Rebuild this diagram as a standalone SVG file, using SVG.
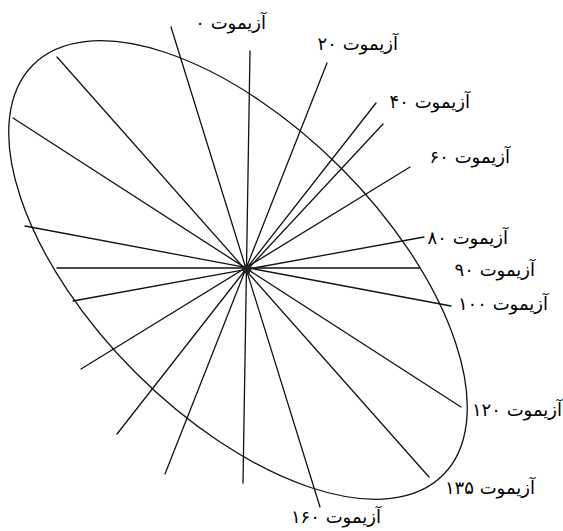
<svg xmlns="http://www.w3.org/2000/svg" width="563" height="531" viewBox="0 0 563 531">
<style>
.ray{stroke:#111;stroke-width:1.3;fill:none;stroke-linecap:round}
.ell{stroke:#111;stroke-width:1.3;fill:none}
.lbl{font-family:"DejaVu Sans",sans-serif;font-size:18px;fill:#000;text-anchor:end}
</style>
<rect width="563" height="531" fill="#fff"/>
<g id="ellipse">
<ellipse class="ell" cx="238" cy="270" rx="290" ry="145" transform="rotate(45 238 270)"/>
</g>
<g id="connectors">
<line class="ray" x1="171" y1="27" x2="320" y2="507"/>
<line class="ray" x1="250" y1="51" x2="243" y2="483"/>
<line class="ray" x1="327" y1="63" x2="165" y2="474"/>
<line class="ray" x1="376" y1="103" x2="117" y2="434"/>
<line class="ray" x1="383" y1="124" x2="248" y2="269"/>
<line class="ray" x1="410" y1="167" x2="81" y2="369"/>
<line class="ray" x1="424" y1="237" x2="73" y2="301"/>
<line class="ray" x1="420" y1="268" x2="57" y2="268"/>
<line class="ray" x1="451" y1="306" x2="25" y2="226"/>
<line class="ray" x1="461" y1="407" x2="13" y2="118"/>
<line class="ray" x1="429" y1="477" x2="57" y2="57"/>
</g>
<g id="center">
<circle cx="247" cy="269" r="4.5" fill="#222"/>
</g>
<g id="label-0"><text class="lbl" x="266" y="29">آزیموت ۰</text></g>
<g id="label-20"><text class="lbl" x="398" y="50">آزیموت ۲۰</text></g>
<g id="label-40"><text class="lbl" x="470" y="108">آزیموت ۴۰</text></g>
<g id="label-60"><text class="lbl" x="510" y="163">آزیموت ۶۰</text></g>
<g id="label-80"><text class="lbl" x="508" y="244">آزیموت ۸۰</text></g>
<g id="label-90"><text class="lbl" x="535" y="276">آزیموت ۹۰</text></g>
<g id="label-100"><text class="lbl" x="548" y="310">آزیموت ۱۰۰</text></g>
<g id="label-120"><text class="lbl" x="562" y="416">آزیموت ۱۲۰</text></g>
<g id="label-135"><text class="lbl" x="535" y="494">آزیموت ۱۳۵</text></g>
<g id="label-160"><text class="lbl" x="381" y="523">آزیموت ۱۶۰</text></g>
</svg>
